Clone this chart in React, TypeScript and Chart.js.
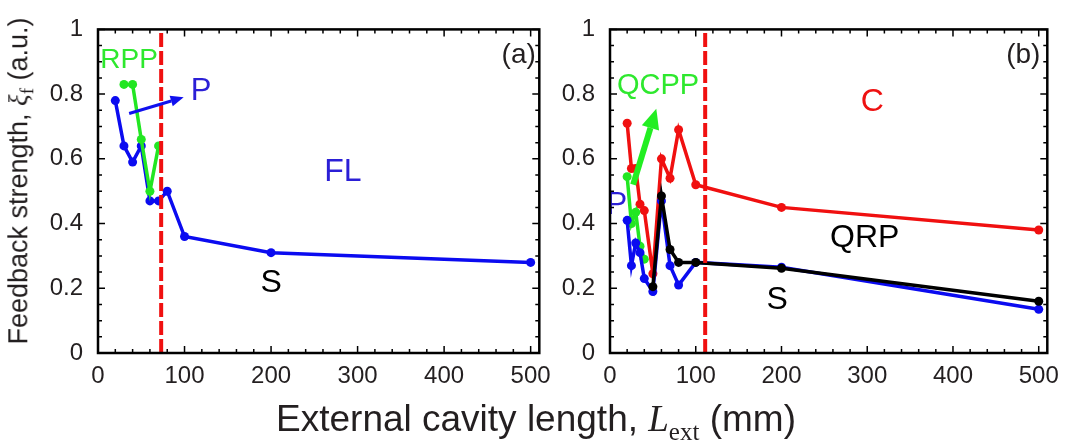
import React, { useEffect, useRef } from 'react';
import { Chart, registerables } from 'chart.js';
Chart.register(...registerables);

// ---------- axes ----------
const xTicks = [0, 100, 200, 300, 400, 500];
const yTicks = [0, 0.2, 0.4, 0.6, 0.8, 1];
const xMax = 510;

// ---------- panel (a) ----------
const aBlueX = [20, 30, 40, 50, 60, 70, 80, 100, 200, 500];
const aBlueY = [0.78, 0.64, 0.59, 0.64, 0.47, 0.47, 0.5, 0.36, 0.31, 0.28];
const aGreenX = [30, 40, 50, 60, 70];
const aGreenY = [0.83, 0.83, 0.66, 0.5, 0.64];
const aBoundary = 73;

// ---------- panel (b) ----------
const bRedX = [20, 25, 30, 35, 40, 50, 60, 70, 80, 100, 200, 500];
const bRedY = [0.71, 0.57, 0.57, 0.46, 0.44, 0.245, 0.6, 0.54, 0.69, 0.52, 0.45, 0.38];
const bBlueX = [20, 25, 30, 35, 40, 50, 60, 70, 80, 100, 200, 500];
const bBlueY = [0.41, 0.27, 0.34, 0.31, 0.23, 0.19, 0.47, 0.27, 0.21, 0.28, 0.265, 0.135];
const bBlackX = [50, 60, 70, 80, 100, 200, 500];
const bBlackY = [0.205, 0.485, 0.32, 0.28, 0.28, 0.262, 0.16];
const bGreenX = [20, 25, 30, 35, 40];
const bGreenY = [0.545, 0.4, 0.435, 0.33, 0.29];
const bBoundary = 111;

// ---------- annotations (data coordinates) ----------
const aLabels = [
  { text: 'RPP', x: 36, y: 0.905, color: '#2ee82e', size: 28, align: 'center' },
  { text: 'P', x: 119, y: 0.808, color: '#2b1fd6', size: 31, align: 'center' },
  { text: 'FL', x: 283, y: 0.56, color: '#2b1fd6', size: 32, align: 'center' },
  { text: 'S', x: 200, y: 0.215, color: '#000000', size: 32, align: 'center' },
  { text: '(a)', x: 506, y: 0.92, color: '#231f20', size: 28, align: 'right' },
];
const aArrows = [{ x0: 36, y0: 0.74, x1: 99, y1: 0.79, color: '#1010ee', width: 3, head: 13, headW: 11 }];

const bLabels = [
  { text: 'QCPP', x: 56, y: 0.826, color: '#2ee82e', size: 29, align: 'center' },
  { text: 'C', x: 306, y: 0.776, color: '#ee1111', size: 32, align: 'center' },
  { text: 'P', x: 8, y: 0.455, color: '#2b1fd6', size: 31, align: 'center' },
  { text: 'QRP', x: 297, y: 0.354, color: '#000000', size: 32, align: 'center' },
  { text: 'S', x: 195, y: 0.162, color: '#000000', size: 32, align: 'center' },
  { text: '(b)', x: 502, y: 0.92, color: '#231f20', size: 28, align: 'right' },
];
const bArrows = [{ x0: 27, y0: 0.52, x1: 54, y1: 0.755, color: '#22ee22', width: 6, head: 20, headW: 18 }];

const BLUE = '#0b0bf0';
const GREEN = '#22e622';
const RED = '#f01010';
const BLACK = '#000000';
const TEXT = '#231f20';
const SANS = '"Liberation Sans", Arial, sans-serif';

const pts = (xs: number[], ys: number[]) => xs.map((x, i) => ({ x, y: ys[i] }));

const lineDs = (xs: number[], ys: number[], color: string, order: number) => ({
  type: 'line' as const,
  data: pts(xs, ys),
  borderColor: color,
  backgroundColor: color,
  borderWidth: 3.5,
  pointRadius: 4.5,
  pointBorderWidth: 0,
  tension: 0,
  order,
});

const boundaryDs = (x: number) => ({
  type: 'line' as const,
  data: [{ x, y: 0 }, { x, y: 1 }],
  borderColor: RED,
  borderWidth: 4,
  borderDash: [14, 4],
  pointRadius: 0,
  order: 0,
});

const framePlugin = (labels: any[], arrows: any[]) => ({
  id: 'frame',
  afterDatasetsDraw(chart: any) {
    const ctx = chart.ctx;
    const xs = chart.scales.x;
    const ys = chart.scales.y;
    ctx.save();
    for (const a of arrows) {
      const x0 = xs.getPixelForValue(a.x0), y0 = ys.getPixelForValue(a.y0);
      const x1 = xs.getPixelForValue(a.x1), y1 = ys.getPixelForValue(a.y1);
      const ang = Math.atan2(y1 - y0, x1 - x0);
      const bx = x1 - a.head * Math.cos(ang), by = y1 - a.head * Math.sin(ang);
      ctx.strokeStyle = a.color;
      ctx.fillStyle = a.color;
      ctx.lineWidth = a.width;
      ctx.beginPath();
      ctx.moveTo(x0, y0);
      ctx.lineTo(bx, by);
      ctx.stroke();
      const px = -Math.sin(ang), py = Math.cos(ang);
      ctx.beginPath();
      ctx.moveTo(x1, y1);
      ctx.lineTo(bx + px * a.headW / 2, by + py * a.headW / 2);
      ctx.lineTo(bx - px * a.headW / 2, by - py * a.headW / 2);
      ctx.closePath();
      ctx.fill();
    }
    for (const l of labels) {
      ctx.font = `${l.size}px ${SANS}`;
      ctx.fillStyle = l.color;
      ctx.textAlign = l.align;
      ctx.textBaseline = 'middle';
      ctx.fillText(l.text, xs.getPixelForValue(l.x), ys.getPixelForValue(l.y));
    }
    ctx.restore();
  },
  afterDraw(chart: any) {
    const ctx = chart.ctx;
    const { left, right, top, bottom } = chart.chartArea;
    const xs = chart.scales.x;
    const ys = chart.scales.y;
    ctx.save();
    ctx.strokeStyle = '#000';
    ctx.lineWidth = 1.5;
    for (let v = 0; v <= 500; v += 20) {
      const p = xs.getPixelForValue(v);
      const len = v % 100 === 0 ? 7 : 4;
      ctx.beginPath();
      ctx.moveTo(p, bottom); ctx.lineTo(p, bottom - len);
      ctx.moveTo(p, top); ctx.lineTo(p, top + len);
      ctx.stroke();
    }
    for (let i = 0; i <= 20; i++) {
      const v = i * 0.05;
      const p = ys.getPixelForValue(v);
      const len = i % 4 === 0 ? 7 : 4;
      ctx.beginPath();
      ctx.moveTo(left, p); ctx.lineTo(left + len, p);
      ctx.moveTo(right, p); ctx.lineTo(right - len, p);
      ctx.stroke();
    }
    ctx.lineWidth = 2.5;
    ctx.strokeRect(left, top, right - left, bottom - top);
    ctx.restore();
  },
});

const makeConfig = (datasets: any[], yWidth: number, yPad: number, padRight: number, labels: any[], arrows: any[]) => ({
  type: 'line' as const,
  data: { datasets },
  options: {
    animation: false as const,
    responsive: false,
    layout: { padding: { top: 14, right: padRight, left: 0, bottom: 0 } },
    plugins: { legend: { display: false }, tooltip: { enabled: false } },
    scales: {
      x: {
        type: 'linear' as const,
        min: 0,
        max: xMax,
        afterBuildTicks: (s: any) => { s.ticks = xTicks.map((v) => ({ value: v })); },
        afterFit: (s: any) => { s.height = 92; },
        ticks: {
          color: TEXT,
          font: { size: 24, family: SANS },
          padding: 9,
          maxRotation: 0,
          autoSkip: false,
        },
        grid: { display: false, drawTicks: false },
        border: { display: false },
      },
      y: {
        type: 'linear' as const,
        min: 0,
        max: 1,
        afterBuildTicks: (s: any) => { s.ticks = yTicks.map((v) => ({ value: v })); },
        afterFit: (s: any) => { s.width = yWidth; },
        ticks: {
          color: TEXT,
          font: { size: 24, family: SANS },
          padding: yPad,
          callback: (v: any) => String(v),
        },
        grid: { display: false, drawTicks: false },
        border: { display: false },
      },
    },
  },
  plugins: [framePlugin(labels, arrows)],
});

function Panel({ left, width, config }: { left: number; width: number; config: any }) {
  const ref = useRef<HTMLCanvasElement>(null);
  useEffect(() => {
    const chart = new Chart(ref.current as HTMLCanvasElement, config);
    return () => chart.destroy();
  }, []);
  return (
    <canvas
      ref={ref}
      width={width}
      height={445}
      style={{ position: 'absolute', left, top: 0, width, height: 445 }}
    />
  );
}

export default function App() {
  const cfgA = makeConfig(
    [
      boundaryDs(aBoundary),
      lineDs(aGreenX, aGreenY, GREEN, 1),
      lineDs(aBlueX, aBlueY, BLUE, 2),
    ],
    98, 15, 17, aLabels, aArrows,
  );
  const cfgB = makeConfig(
    [
      boundaryDs(bBoundary),
      lineDs(bBlackX, bBlackY, BLACK, 1),
      lineDs(bBlueX, bBlueY, BLUE, 2),
      lineDs(bGreenX, bGreenY, GREEN, 3),
      lineDs(bRedX, bRedY, RED, 4),
    ],
    50, 15, 13, bLabels, bArrows,
  );
  const serif = '"Liberation Serif", "Times New Roman", serif';
  return (
    <div style={{ position: 'absolute', left: 0, top: 0, width: 1068, height: 445, background: '#fff', overflow: 'hidden' }}>
      <Panel left={0} width={560} config={cfgA} />
      <Panel left={560} width={508} config={cfgB} />
      <div
        style={{
          position: 'absolute', left: 21, top: 181, width: 420, textAlign: 'center',
          transform: 'translate(-50%, -50%) rotate(-90deg)', fontFamily: SANS, fontSize: 27,
          color: TEXT, whiteSpace: 'nowrap', lineHeight: 1,
        }}
      >
        Feedback strength,{' '}
        <span style={{ fontFamily: serif, fontStyle: 'italic' }}>ξ</span>
        <sub style={{ fontFamily: serif, fontSize: 19 }}>f</sub> (a.u.)
      </div>
      <div
        style={{
          position: 'absolute', left: 536, top: 422, transform: 'translate(-50%, -50%)',
          fontFamily: SANS, fontSize: 37, color: TEXT, whiteSpace: 'nowrap', lineHeight: 1,
        }}
      >
        External cavity length,{' '}
        <span style={{ fontFamily: serif, fontStyle: 'italic' }}>L</span>
        <sub style={{ fontFamily: serif, fontSize: 25 }}>ext</sub> (mm)
      </div>
    </div>
  );
}
